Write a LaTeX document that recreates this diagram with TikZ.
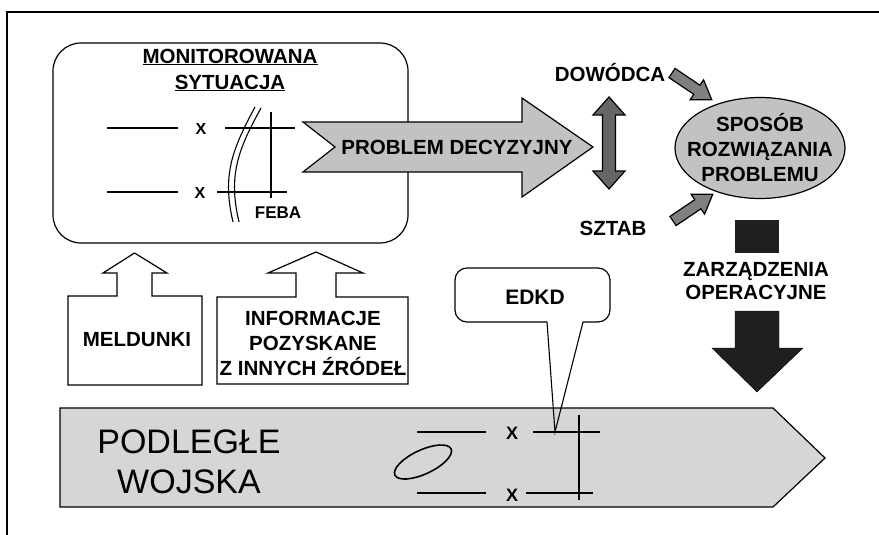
\documentclass[tikz,border=0pt]{standalone}
\usepackage{fontspec}
\setmainfont{Liberation Sans}
\usetikzlibrary{shapes.geometric}
\tikzset{
  lbl/.style={font=\bfseries\fontsize{20.5}{25}\selectfont, align=center, inner sep=0pt},
  smallx/.style={font=\bfseries\fontsize{16}{16}\selectfont, inner sep=0pt},
  bigx/.style={font=\bfseries\fontsize{18}{18}\selectfont, inner sep=0pt},
  outl/.style={draw=black, line width=1.2pt, line join=miter},
  thinl/.style={draw=black, line width=1.1pt},
  lightfill/.style={fill=black!24},
  midfill/.style={fill=black!50},
  darkfill/.style={fill=black!60},
  blackfill/.style={fill=black!88},
}
\begin{document}
\begin{tikzpicture}[x=1pt,y=-1pt]
\useasboundingbox (0,0) rectangle (879,535);
% outer frame
\draw[line width=1.5pt] (7,535) -- (7,12) -- (879,12);

% monitored situation box
\node[outl, rounded corners=28pt, minimum width=355pt, minimum height=200pt, inner sep=0pt] (mon) at (230.5,143) {};
\node[lbl, font=\bfseries\fontsize{20.5}{26}\selectfont] (title) at (230,70) {\underline{MONITOROWANA}\\\underline{SYTUACJA}};
% situation sketch
\node[smallx] (x1) at (201,129) {X};
\node[smallx] (x2) at (200,193) {X};
\draw[thinl] (107,128) -- (178,128);
\draw[thinl] (225,128) -- (295,128);
\draw[thinl] (107,192) -- (178,192);
\draw[thinl] (217,192) -- (287,192);
\draw[thinl] (271,112) -- (271,198);
\draw[thinl] (255,107) .. controls (232,150) and (222,175) .. (233,222);
\draw[thinl] (261,108) .. controls (238,150) and (228,175) .. (239,222);
\node[lbl, font=\bfseries\fontsize{17}{17}\selectfont] (feba) at (278,213) {FEBA};

% decision problem arrow
\draw[outl, lightfill] (303,122) -- (522,122) -- (522,98) -- (593,147) -- (522,197) -- (522,172) -- (303,172) -- (335,147) -- cycle;
\node[lbl] (prob) at (457,147) {PROBLEM DECYZYJNY};

% commander / staff
\node[lbl] (dow) at (610,73) {DOWÓDCA};
\node[lbl] (szt) at (613,228) {SZTAB};
\draw[outl, darkfill] (609,97) -- (625,115) -- (615.5,115) -- (615.5,171) -- (625,171) -- (609,189) -- (593,171) -- (602.5,171) -- (602.5,115) -- (593,115) -- cycle;
\begin{scope}[shift={(672,73)}, rotate=-34]
\draw[outl, midfill] (0,-5.5) -- (30,-5.5) -- (30,-12) -- (48,0) -- (30,12) -- (30,5.5) -- (0,5.5) -- cycle;
\end{scope}
\begin{scope}[shift={(673,221)}, rotate=34]
\draw[outl, midfill] (0,-5.5) -- (30,-5.5) -- (30,-12) -- (48,0) -- (30,12) -- (30,5.5) -- (0,5.5) -- cycle;
\end{scope}

% solution ellipse
\node[ellipse, outl, lightfill, minimum width=170pt, minimum height=101pt, inner sep=0pt] (sposob) at (760,148) {};
\node[lbl] (sposobt) at (sposob) {SPOSÓB\\ROZWIĄZANIA\\PROBLEMU};

% operational orders
\node[blackfill, minimum width=44pt, minimum height=33pt, inner sep=0pt] (sq) at (757,236.5) {};
\node[lbl, font=\bfseries\fontsize{20.5}{23}\selectfont] (zarz) at (756,281.5) {ZARZĄDZENIA\\OPERACYJNE};
\draw[blackfill] (735,311) -- (779,311) -- (779,348) -- (803,348) -- (757,392) -- (712,348) -- (735,348) -- cycle;

% source boxes
\draw[outl] (68,385) -- (68,296) -- (117,296) -- (117,273) -- (103,273) -- (134.5,253) -- (167,273) -- (152,273) -- (152,296) -- (202,296) -- (202,385) -- cycle;
\node[lbl] (meld) at (137,340) {MELDUNKI};
\draw[outl] (217,384) -- (217,297) -- (296,297) -- (296,273) -- (268,273) -- (316,252) -- (363,273) -- (336,273) -- (336,297) -- (408,297) -- (408,384) -- cycle;
\node[lbl] (info) at (313,343) {INFORMACJE\\POZYSKANE\\Z INNYCH ŹRÓDEŁ};

% subordinate troops
\draw[outl, fill=black!16] (60,408) -- (773,408) -- (825,458) -- (773,507) -- (60,507) -- cycle;
\node[align=center, inner sep=0pt, font=\fontsize{34}{40}\selectfont] (wojska) at (189,462) {PODLEGŁE\\WOJSKA};
\draw[line width=1.6pt, rotate around={25:(423,462)}] (423,462) ellipse [x radius=31, y radius=12];
\node[bigx] (x3) at (512,433) {X};
\node[bigx] (x4) at (512,495) {X};
\draw[thinl] (417,432) -- (486,432);
\draw[thinl] (533,432) -- (600,432);
\draw[thinl] (417,493) -- (486,493);
\draw[thinl] (526,493) -- (593,493);
\draw[thinl] (579,415) -- (579,500);
\coordinate (edtip) at (555,432);

% EDKD callout
\draw[outl, rounded corners=12pt] (547,322) -- (455,322) -- (455,268) -- (610,268) -- (610,322) -- (583,322);
\draw[thinl] (547,322) -- (edtip) -- (583,322);
\node[lbl, font=\bfseries\fontsize{21}{21}\selectfont] (edkd) at (535,297) {EDKD};
\end{tikzpicture}
\end{document}
